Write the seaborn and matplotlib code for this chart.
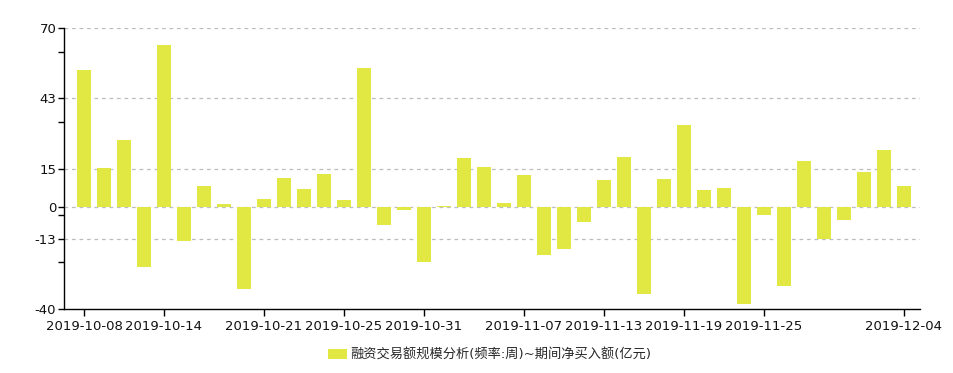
import matplotlib
matplotlib.use("Agg")
import matplotlib.pyplot as plt
import seaborn as sns
import pandas as pd
from matplotlib.patches import Patch

dates = [
    "2019-10-08", "2019-10-09", "2019-10-10", "2019-10-11",
    "2019-10-14", "2019-10-15", "2019-10-16", "2019-10-17", "2019-10-18",
    "2019-10-21", "2019-10-22", "2019-10-23", "2019-10-24", "2019-10-25",
    "2019-10-28", "2019-10-29", "2019-10-30", "2019-10-31", "2019-11-01",
    "2019-11-04", "2019-11-05", "2019-11-06", "2019-11-07", "2019-11-08",
    "2019-11-11", "2019-11-12", "2019-11-13", "2019-11-14", "2019-11-15",
    "2019-11-18", "2019-11-19", "2019-11-20", "2019-11-21", "2019-11-22",
    "2019-11-25", "2019-11-26", "2019-11-27", "2019-11-28", "2019-11-29",
    "2019-12-02", "2019-12-03", "2019-12-04",
]
values = [
    53.8, 15.4, 26.4, -23.4,
    63.6, -13.2, 8.3, 1.3, -32.0,
    3.3, 11.5, 7.2, 13.0, 2.9,
    54.6, -6.9, -1.1, -21.4, 0.2,
    19.3, 15.8, 1.7, 12.7, -18.7,
    -16.4, -5.8, 10.7, 19.7, -34.0,
    11.1, 32.3, 6.8, 7.6, -37.9,
    -3.0, -30.8, 18.1, -12.4, -5.0,
    13.8, 22.5, 8.3,
]
xtick_labels = ["2019-10-08", "2019-10-14", "2019-10-21", "2019-10-25", "2019-10-31",
                "2019-11-07", "2019-11-13", "2019-11-19", "2019-11-25", "2019-12-04"]
ytick_values = [70, 42.5, 15, 0, -12.5, -40]
ytick_labels = ["70", "43", "15", "0", "-13", "-40"]
yminor_values = [60.8, 33.3, -3.3, -21.7]
series_name = "融资交易额规模分析(频率:周)~期间净买入额(亿元)"

bar_color = "#E1E843"

sns.set_theme(style="white")
plt.rcParams["font.family"] = ["DejaVu Sans", "Noto Sans CJK SC"]

df = pd.DataFrame({"date": dates, "value": values})

fig = plt.figure(figsize=(9.54, 3.73), dpi=100)
ax = fig.add_axes([64 / 954, (373 - 309) / 373, (920 - 64) / 954, (309 - 28.3) / 373])

sns.barplot(data=df, x="date", y="value", color=bar_color, width=0.7,
            saturation=1, ax=ax, zorder=3)
for p in ax.patches:
    p.set_edgecolor("none")

ax.set_xlim(-1, 41.8)
ax.set_ylim(-40, 70)

pos = [dates.index(l) for l in xtick_labels]
ax.set_xticks(pos)
ax.set_xticklabels(xtick_labels, fontsize=9.5, color="#111111")
ax.set_yticks(ytick_values)
ax.set_yticklabels(ytick_labels, fontsize=9.5, color="#111111")
ax.set_yticks(yminor_values, minor=True)

ax.tick_params(axis="x", which="major", length=5, width=1, color="black", pad=3, bottom=True)
ax.tick_params(axis="y", which="both", length=4.5, width=1, color="black", pad=1, left=True)

for yv in ytick_values[:-1]:
    ax.axhline(yv, color="#BDBDBD", linestyle=(0, (3, 3)), linewidth=0.9, zorder=1)

for s in ["top", "right"]:
    ax.spines[s].set_visible(False)
for s in ["left", "bottom"]:
    ax.spines[s].set_color("black")
    ax.spines[s].set_linewidth(1)

ax.set_xlabel("")
ax.set_ylabel("")

handle = Patch(facecolor=bar_color, edgecolor="none")
ax.legend([handle], [series_name], loc="center", bbox_to_anchor=(0.497, -0.165),
          frameon=False, fontsize=9.5, handlelength=1.45, handleheight=0.8,
          handletextpad=0.2, borderaxespad=0)

fig.savefig("out.png", dpi=100)
